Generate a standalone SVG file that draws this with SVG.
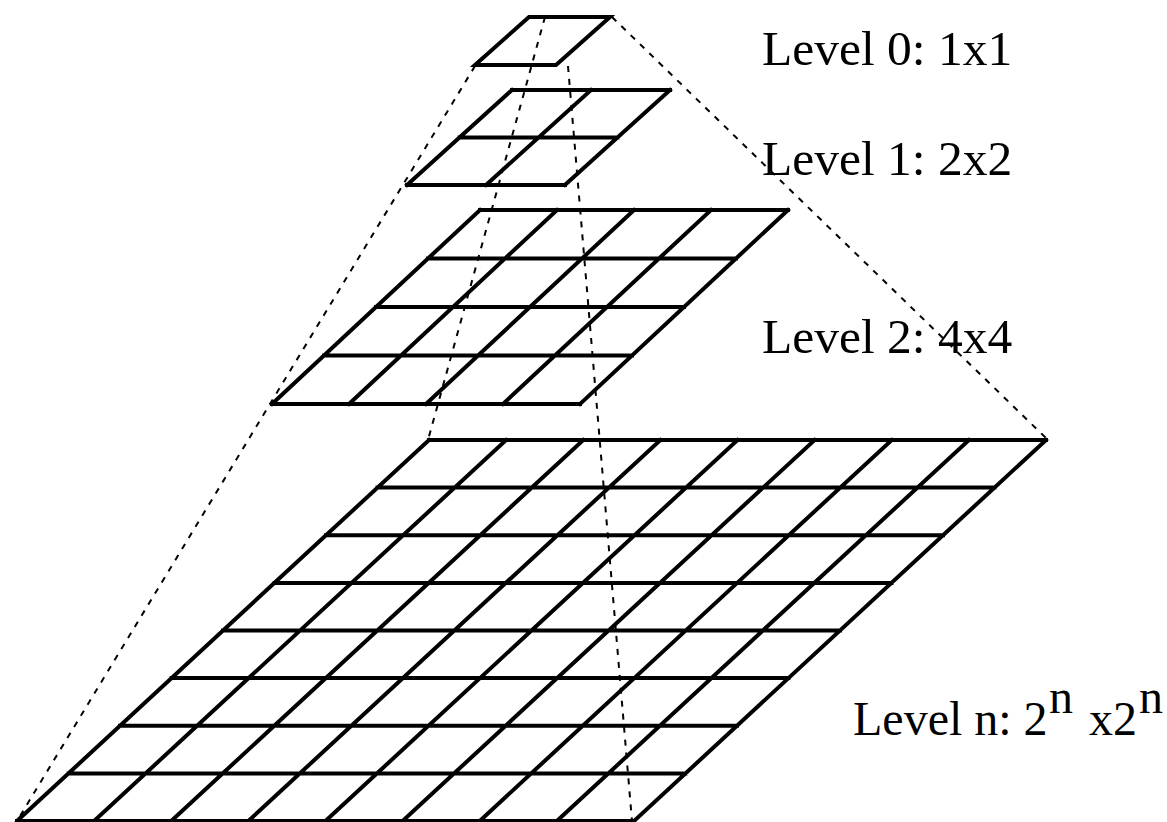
<svg xmlns="http://www.w3.org/2000/svg" width="1167" height="822" viewBox="0 0 1167 822">
<style>
.grid{fill:none;stroke:#000;stroke-width:4;stroke-linecap:square;stroke-linejoin:miter}
.dash{fill:none;stroke:#000;stroke-width:2;stroke-dasharray:6 7}
.lbl{font-family:"Liberation Serif","Times New Roman",serif;font-size:49.5px;fill:#000}
.lbln{font-size:48px}
</style>
<rect x="0" y="0" width="1167" height="822" fill="#fff"/>
<g id="connectors">
<line class="dash" x1="475" y1="66" x2="17" y2="821"/>
<line class="dash" x1="612" y1="17" x2="1048" y2="440"/>
<line class="dash" x1="545" y1="17" x2="428" y2="440"/>
<line class="dash" x1="568" y1="66" x2="632" y2="821"/>
</g>
<g id="level0">
<path class="grid" d="M529,17 H610 L556,65 H475 Z"/>
<text class="lbl" x="762" y="65">Level 0: 1x1</text>
</g>
<g id="level1">
<path class="grid" d="M512,90 H670 M459.5,137.5 H617.5 M407,185 H565 M512,90 L407,185 M591,90 L486,185 M670,90 L565,185"/>
<text class="lbl" x="762" y="175">Level 1: 2x2</text>
</g>
<g id="level2">
<path class="grid" d="M480,210 H788 M428,258.5 H736 M376,307 H684 M324,355.5 H632 M272,404 H580 M480,210 L272,404 M557,210 L349,404 M634,210 L426,404 M711,210 L503,404 M788,210 L580,404"/>
<text class="lbl" x="762" y="353">Level 2: 4x4</text>
</g>
<g id="leveln">
<path class="grid" d="M429,440 H1046 M377.5,487.6 H994.5 M326,535.3 H943 M274.5,582.9 H891.5 M223,630.5 H840 M171.5,678.1 H788.5 M120,725.8 H737 M68.5,773.4 H685.5 M17,821 H634 M429,440 L17,821 M506.1,440 L94.1,821 M583.25,440 L171.25,821 M660.4,440 L248.4,821 M737.5,440 L325.5,821 M814.6,440 L402.6,821 M891.75,440 L479.75,821 M968.9,440 L556.9,821 M1046,440 L634,821"/>
<text class="lbl lbln" x="853" y="735">Level n: 2<tspan x="1049" y="713">n</tspan><tspan x="1089" y="735">x2</tspan><tspan x="1139" y="713">n</tspan></text>
</g>
</svg>
